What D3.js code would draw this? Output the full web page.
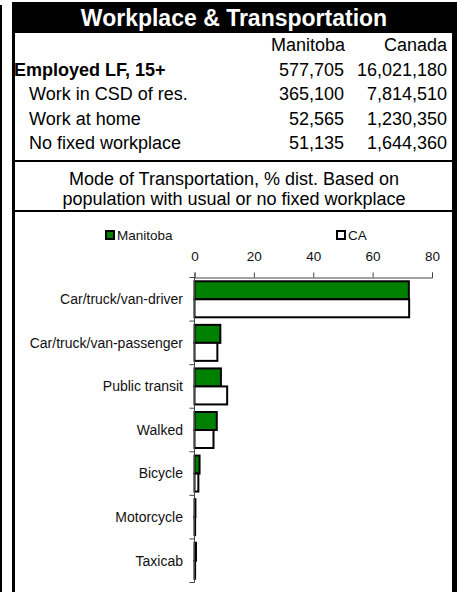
<!DOCTYPE html>
<html>
<head>
<meta charset="utf-8">
<script src="https://cdnjs.cloudflare.com/ajax/libs/d3/7.8.5/d3.min.js"></script>
<style>
body { margin: 0; background: #fff; }
text { font-family: Arial, "Liberation Sans", sans-serif; }
</style>
</head>
<body>
<div class="chart"></div>
<script>
var rowLabels = ["Employed LF, 15+", "Work in CSD of res.", "Work at home", "No fixed workplace"];
var manitobaCounts = ["577,705", "365,100", "52,565", "51,135"];
var canadaCounts = ["16,021,180", "7,814,510", "1,230,350", "1,644,360"];

var categories = ["Car/truck/van-driver", "Car/truck/van-passenger", "Public transit", "Walked", "Bicycle", "Motorcycle", "Taxicab"];
var manitoba = [72.2, 8.7, 8.9, 7.5, 1.7, 0.3, 0.5];
var canada = [72.3, 7.7, 11.0, 6.4, 1.3, 0.2, 0.2];
var series = ["Manitoba", "CA"];
var ticks = [0, 20, 40, 60, 80];

var svg = d3.select(".chart").append("svg").attr("width", 457).attr("height", 592);

// frame
svg.append("rect").attr("x", 0).attr("y", 5).attr("width", 2).attr("height", 587).attr("fill", "#000");
svg.append("rect").attr("x", 12).attr("y", 2).attr("width", 445).attr("height", 31).attr("fill", "#000");
svg.append("rect").attr("x", 12).attr("y", 2).attr("width", 3).attr("height", 590).attr("fill", "#000");
svg.append("rect").attr("x", 452).attr("y", 2).attr("width", 5).attr("height", 590).attr("fill", "#000");
svg.append("rect").attr("x", 12).attr("y", 160).attr("width", 445).attr("height", 2).attr("fill", "#000");
svg.append("rect").attr("x", 12).attr("y", 210).attr("width", 445).attr("height", 2).attr("fill", "#000");

svg.append("text").attr("x", 234).attr("y", 26).attr("text-anchor", "middle")
	.attr("fill", "#fff").style("font-size", "23px").style("font-weight", "bold")
	.text("Workplace & Transportation");

// table
svg.append("text").attr("x", 345).attr("y", 51).attr("text-anchor", "end").style("font-size", "18px").text("Manitoba");
svg.append("text").attr("x", 447).attr("y", 51).attr("text-anchor", "end").style("font-size", "18px").text("Canada");
rowLabels.forEach(function(d, i) {
	var yy = 75.5 + i * 24.5;
	svg.append("text").attr("x", i == 0 ? 14 : 29).attr("y", yy).style("font-size", "18px")
		.style("font-weight", i == 0 ? "bold" : "normal").text(d);
	svg.append("text").attr("x", 344).attr("y", yy).attr("text-anchor", "end").style("font-size", "18px").text(manitobaCounts[i]);
	svg.append("text").attr("x", 447).attr("y", yy).attr("text-anchor", "end").style("font-size", "18px").text(canadaCounts[i]);
});

svg.append("text").attr("x", 234).attr("y", 184.5).attr("text-anchor", "middle").style("font-size", "18px")
	.text("Mode of Transportation, % dist. Based on");
svg.append("text").attr("x", 234).attr("y", 205).attr("text-anchor", "middle").style("font-size", "18px")
	.text("population with usual or no fixed workplace");

// chart
var x = d3.scaleLinear().domain([0, 80]).range([194.5, 432]);
var y = d3.scaleBand().domain(categories).range([277.5, 582.5]);
var sub = d3.scaleBand().domain(series).range([0, y.bandwidth()]).paddingOuter(0.21);
var colors = {"Manitoba": "#008000", "CA": "#fff"};

var xAxis = svg.append("g").attr("transform", "translate(0,277.5)")
	.call(d3.axisTop(x).tickValues(ticks).tickSize(5).tickSizeOuter(5).tickPadding(12));
xAxis.selectAll("path, line").attr("stroke", "#444");
xAxis.selectAll("text").style("font-size", "13.5px").attr("fill", "#111").style("font-family", "Arial, 'Liberation Sans', sans-serif");

var rows = categories.map(function(c, i) { return {cat: c, Manitoba: manitoba[i], CA: canada[i]}; });
var groups = svg.selectAll("g.cat").data(rows).enter().append("g").attr("class", "cat")
	.attr("transform", function(d) { return "translate(0," + y(d.cat) + ")"; });
groups.selectAll("rect").data(function(d) { return series.map(function(s) { return {s: s, v: d[s]}; }); })
	.enter().append("rect")
	.attr("x", x(0))
	.attr("y", function(d) { return sub(d.s); })
	.attr("width", function(d) { return x(d.v) - x(0); })
	.attr("height", sub.bandwidth())
	.attr("fill", function(d) { return colors[d.s]; })
	.attr("stroke", "#000").attr("stroke-width", 2);

// y axis with ticks at band edges
var edges = categories.map(function(c) { return y(c); }).concat([y.range()[1]]);
svg.append("line").attr("x1", x(0)).attr("x2", x(0)).attr("y1", y.range()[0]).attr("y2", y.range()[1]).attr("stroke", "#444");
svg.selectAll("line.ytick").data(edges).enter().append("line").attr("class", "ytick")
	.attr("x1", x(0) - 5).attr("x2", x(0)).attr("y1", function(d) { return d; }).attr("y2", function(d) { return d; })
	.attr("stroke", "#444");
svg.selectAll("text.cat").data(categories).enter().append("text").attr("class", "cat")
	.attr("x", 183).attr("y", function(d) { return y(d) + y.bandwidth() / 2; })
	.attr("dy", "0.35em").attr("text-anchor", "end").style("font-size", "14px").attr("fill", "#111")
	.text(function(d) { return d; });

// legend
var legendX = [105, 336];
series.forEach(function(s, i) {
	svg.append("rect").attr("x", legendX[i] + 1).attr("y", 231).attr("width", 8).attr("height", 8)
		.attr("fill", colors[s]).attr("stroke", "#000").attr("stroke-width", 2);
	svg.append("text").attr("x", legendX[i] + 12).attr("y", 240).style("font-size", "13.5px").attr("fill", "#111").text(s);
});
</script>
</body>
</html>
